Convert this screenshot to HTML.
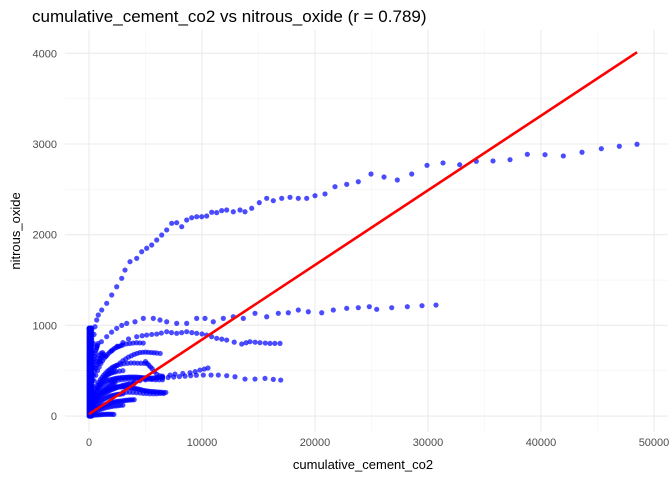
<!DOCTYPE html>
<html><head><meta charset="utf-8"><style>
html,body{margin:0;padding:0;background:#fff;}
svg{display:block;font-family:"Liberation Sans",sans-serif;}
</style></head><body>
<svg id="chart" width="672" height="480" viewBox="0 0 672 480">
<text x="32" y="22" font-size="17" fill="#000">cumulative_cement_co2 vs nitrous_oxide (r = 0.789)</text>
<g id="grid"></g>
<g id="points"></g>
<g id="fit"></g>
<g id="axes"></g>
<text x="363" y="469" font-size="13" text-anchor="middle" fill="#000">cumulative_cement_co2</text>
<text transform="translate(20,231) rotate(-90)" font-size="13" text-anchor="middle" fill="#000">nitrous_oxide</text>
</svg>
<script>
const xTicks = [0, 10000, 20000, 30000, 40000, 50000];
const yTicks = [0, 1000, 2000, 3000, 4000];
const xMinor = [5000, 15000, 25000, 35000, 45000];
const yMinor = [500, 1500, 2500, 3500];
const fitIntercept = 20;
const fitSlope = 0.0823;
const fitRange = [0, 48500];
const seriesTop = [[300,700],[400,800],[450,900],[531,985],[681,1059],[823,1114],[1124,1169],[1566,1243],[2009,1335],[2451,1426],[2894,1519],[3186,1610],[3629,1702],[4221,1739],[4664,1812],[5106,1850],[5549,1886],[5991,1941],[6434,1996],[6876,2052],[7319,2125],[7761,2132],[8204,2088],[8646,2162],[9089,2187],[9531,2198],[9974,2198],[10416,2206],[10859,2247],[11301,2243],[11744,2265],[12186,2272],[12770,2253],[13364,2272],[13806,2253],[14399,2291],[15071,2353],[15726,2401],[16311,2375],[17054,2401],[17789,2412],[18523,2401],[19266,2401],[20001,2430],[20886,2449],[21771,2529],[22806,2555],[23832,2584],[24957,2669],[26108,2636],[27285,2603],[28559,2669],[29913,2765],[31329,2791],[32807,2772],[34276,2809],[35754,2813],[37259,2827],[38791,2886],[40356,2882],[41977,2868],[43631,2909],[45339,2948],[46932,2975],[48498,2997]];
const seriesMid = [[681,765],[1100,820],[1566,875],[2000,925],[2451,967],[2900,1000],[3336,1022],[4071,1040],[4806,1077],[5691,1077],[6284,1059],[6876,1040],[7761,1022],[8646,1022],[9531,1077],[10266,1077],[11001,1040],[11886,1077],[12770,1095],[13656,1077],[14691,1133],[15726,1095],[16753,1133],[17638,1139],[18523,1169],[19408,1150],[20594,1139],[21620,1169],[22806,1188],[23832,1195],[24807,1206],[25461,1177],[26789,1195],[28170,1206],[29471,1217],[30710,1224]];
const seriesEight = [[1000,600],[1500,660],[2000,720],[2500,770],[3000,810],[3500,850],[4221,875],[4700,885],[5106,893],[5550,900],[5991,904],[6400,915],[6876,930],[7300,920],[7761,912],[8200,920],[8646,930],[9100,920],[9531,912],[10000,905],[10416,893],[10850,875],[11301,857],[11750,848],[12186,838],[12850,815],[13514,794],[13900,808],[14249,820],[14700,814],[15134,809],[15600,805],[16019,801],[16450,801],[16904,801]];
const seriesFive = [[4000,380],[4500,390],[5000,400],[5500,410],[6000,420],[6500,440],[7170,452],[7610,463],[8300,470],[8940,478],[9400,490],[9820,507],[10200,518],[10530,530]];
const seriesFour = [[6500,420],[7000,425],[7500,430],[8000,435],[8500,440],[9000,445],[9500,450],[10118,452],[10800,452],[11443,452],[12186,445],[12921,433],[13806,408],[14691,408],[15576,415],[16311,404],[16965,397]];
const fan1 = [[200,150],[400,200],[600,250],[800,300],[1000,340],[1250,390],[1500,430],[1750,470],[2000,500],[2250,530],[2500,560],[2750,585],[3000,610],[3250,630],[3500,650],[3750,665],[4000,680],[4250,690],[4500,700],[4750,703],[5000,705],[5250,703],[5500,700],[5750,698],[6000,695],[6300,690]];
const fan1b = [[5000,600],[5150,580],[5300,560],[5450,540],[5600,520],[5800,490],[6000,460],[6250,445],[6500,430]];
const fan2 = [[100,200],[300,330],[450,390],[600,450],[750,500],[900,540],[1050,580],[1200,610],[1350,640],[1500,660],[1650,680],[1800,700],[1950,715],[2100,730],[2250,745],[2400,755],[2550,763],[2700,770],[2850,778],[3000,785],[3300,795],[3600,800],[3900,805],[4200,808],[4500,806],[4800,805]];
const fan3 = [[100,150],[250,210],[400,260],[550,300],[700,340],[850,370],[1000,400],[1150,425],[1300,450],[1450,470],[1600,490],[1750,505],[1900,520],[2050,535],[2200,545],[2350,553],[2500,560],[2800,570],[3100,578],[3400,582],[3700,585],[4000,585],[4300,583],[4600,582],[4900,580]];
const fan4 = [[100,120],[300,200],[450,250],[600,290],[750,320],[900,350],[1050,375],[1200,400],[1350,420],[1500,440],[1650,455],[1800,465],[1950,473],[2100,480],[2250,485],[2400,490],[2700,495],[3000,500]];
const fan5 = [[100,100],[250,150],[400,200],[550,240],[700,270],[850,295],[1000,320],[1150,340],[1300,360],[1450,373],[1600,385],[1750,393],[1900,400],[2050,405],[2200,410],[2350,414],[2500,418],[2650,420],[2800,422],[2950,424],[3100,425],[3250,427],[3400,428],[3550,429],[3700,430],[3850,430],[4000,430],[4150,429],[4300,428],[4450,427],[4600,425],[4750,423],[4900,422],[5050,421],[5200,420],[5350,419],[5500,418],[5650,419],[5800,420],[5950,422],[6100,425],[6300,428],[6500,430]];
const fan5b = [[2000,380],[2300,390],[2600,395],[2900,400],[3200,405],[3500,408],[3800,410],[4100,412],[4400,412],[4700,410],[5000,408],[5300,405],[5600,402],[5900,400],[6200,400],[6500,400]];
const fan6 = [[100,80],[250,115],[400,150],[550,175],[700,200],[850,220],[1000,240],[1150,255],[1300,270],[1450,280],[1600,290],[1750,298],[1900,305],[2050,310],[2200,315],[2350,318],[2500,320],[2650,321],[2800,322],[2950,321],[3100,320],[3250,318],[3400,315],[3550,312],[3700,310],[3850,307],[4000,305],[4150,302],[4300,300],[4450,295],[4600,290],[4750,285],[4900,280],[5050,278],[5200,275],[5350,272],[5500,270],[5650,269],[5800,268],[5950,266],[6100,265],[6250,263],[6400,262],[6600,261],[6800,260]];
const fan6b = [[3000,260],[3300,262],[3600,262],[3900,260],[4200,258],[4500,255],[4800,250],[5100,248],[5400,245],[5700,245],[6000,246],[6300,248],[6600,248]];
const fan7 = [[100,60],[250,90],[400,120],[550,145],[700,170],[850,190],[1000,210],[1150,225],[1300,240],[1450,253],[1600,265],[1750,275],[1900,285],[2050,293],[2200,300],[2350,308],[2500,315],[2650,323],[2800,330],[2950,335],[3100,340],[3250,345],[3400,350],[3550,353],[3700,355],[3850,357],[4000,358]];
const fan8 = [[100,30],[250,45],[400,60],[550,73],[700,85],[850,95],[1000,105],[1150,113],[1300,120],[1450,128],[1600,135],[1750,140],[1900,145],[2050,150],[2200,155],[2350,158],[2500,160],[2650,163],[2800,165],[2950,168],[3100,170],[3250,173],[3400,175],[3550,177],[3700,178],[3850,179],[4000,180]];
const fan8b = [[200,20],[400,35],[600,50],[800,62],[1000,72],[1200,80],[1400,88],[1600,95],[1800,100],[2000,105],[2200,110],[2400,112],[2600,115],[2800,118],[3000,120]];
const fan9 = [[100,5],[250,8],[400,10],[550,11],[700,12],[850,14],[1000,15],[1150,17],[1300,18],[1450,19],[1600,20],[1750,20],[1900,20],[2050,19],[2200,18]];
const fan10 = [[100,45],[250,68],[400,90],[550,110],[700,130],[850,145],[1000,160],[1150,173],[1300,185],[1450,195],[1600,205],[1750,213],[1900,220],[2050,225],[2200,230],[2350,234],[2500,238],[2650,240],[2800,242],[3000,245]];
const fan11 = [[100,300],[150,360],[200,420],[250,470],[300,520],[350,560],[400,600],[450,630],[500,660],[550,690],[600,720],[650,740],[700,760],[750,780],[800,800]];
const fan12 = [[100,250],[200,330],[300,400],[400,450],[500,500],[600,530],[700,560],[800,585],[900,610],[1000,630],[1100,650],[1200,665],[1300,680]];
const fan13 = [[200,100],[350,140],[500,180],[650,205],[800,230],[950,250],[1100,270],[1250,285],[1400,300],[1550,315],[1700,330],[1850,340],[2000,350],[2150,358],[2300,365]];
const fan14 = [[150,350],[300,460],[450,540],[600,600],[750,640],[900,670],[1050,690],[1200,700]];
const colX = [0, 40, 80, 130, 180, 240];
const colY = [0,25,50,75,100,125,150,175,200,225,250,275,300,325,350,375,400,425,450,475,500,525,550,575,600,625,650,675,700,725,750,775,800,825,850,875,900,925,950,970];

const svg = document.getElementById('chart');
const NS = 'http://www.w3.org/2000/svg';
const L = 65, R = 668, T = 30, B = 432;
const xMin = -2124, xMax = 51240, yMin = -176, yMax = 4257;
function sx(v){ return L + (v - xMin) / (xMax - xMin) * (R - L); }
function sy(v){ return B - (v - yMin) / (yMax - yMin) * (B - T); }
function mk(tag, attrs, parent){
  const e = document.createElementNS(NS, tag);
  for (const k in attrs) e.setAttribute(k, attrs[k]);
  parent.appendChild(e);
  return e;
}
const grid = document.getElementById('grid');
xMinor.forEach(v => {
  const l = mk('line', {x1:sx(v), x2:sx(v), y1:T, y2:B, stroke:'#f3f3f3', 'stroke-width':0.6}, grid);
  
  
});
yMinor.forEach(v => {
  const l = mk('line', {x1:L, x2:R, y1:sy(v), y2:sy(v), stroke:'#f3f3f3', 'stroke-width':0.6}, grid);
  
  
});
const axes = document.getElementById('axes');
xTicks.forEach(v => {
  const l = mk('line', {x1:sx(v), x2:sx(v), y1:T, y2:B, stroke:'#ebebeb', 'stroke-width':1.1}, grid);
  
  
  const t = mk('text', {x:sx(v), y:446, 'font-size':11, 'text-anchor':'middle', fill:'#4d4d4d'}, axes);
  t.textContent = v;
  
  
});
yTicks.forEach(v => {
  const l = mk('line', {x1:L, x2:R, y1:sy(v), y2:sy(v), stroke:'#ebebeb', 'stroke-width':1.1}, grid);
  
  
  const t = mk('text', {x:57, y:sy(v)+4, 'font-size':11, 'text-anchor':'end', fill:'#4d4d4d'}, axes);
  t.textContent = v;
  
  
});
const pts = document.getElementById('points');
function drawSeries(arr){
  arr.forEach(p => {
    const c = mk('circle', {cx:sx(p[0]), cy:sy(p[1]), r:2.6, fill:'#0000ff', 'fill-opacity':0.7}, pts);
    
    
  });
}
colX.forEach(x => drawSeries(colY.map(y => [x, y])));
[fan9,fan8b,fan8,fan10,fan13,fan7,fan6b,fan6,fan5b,fan5,fan4,fan3,fan12,fan14,fan2,fan11,fan1,fan1b,seriesFive,seriesFour,seriesEight,seriesMid,seriesTop].forEach(drawSeries);
const fit = document.getElementById('fit');
const fl = mk('line', {x1:sx(fitRange[0]), y1:sy(fitIntercept + fitSlope*fitRange[0]), x2:sx(fitRange[1]), y2:sy(fitIntercept + fitSlope*fitRange[1]), stroke:'#ff0000', 'stroke-width':2.6}, fit);


</script>
</body></html>
